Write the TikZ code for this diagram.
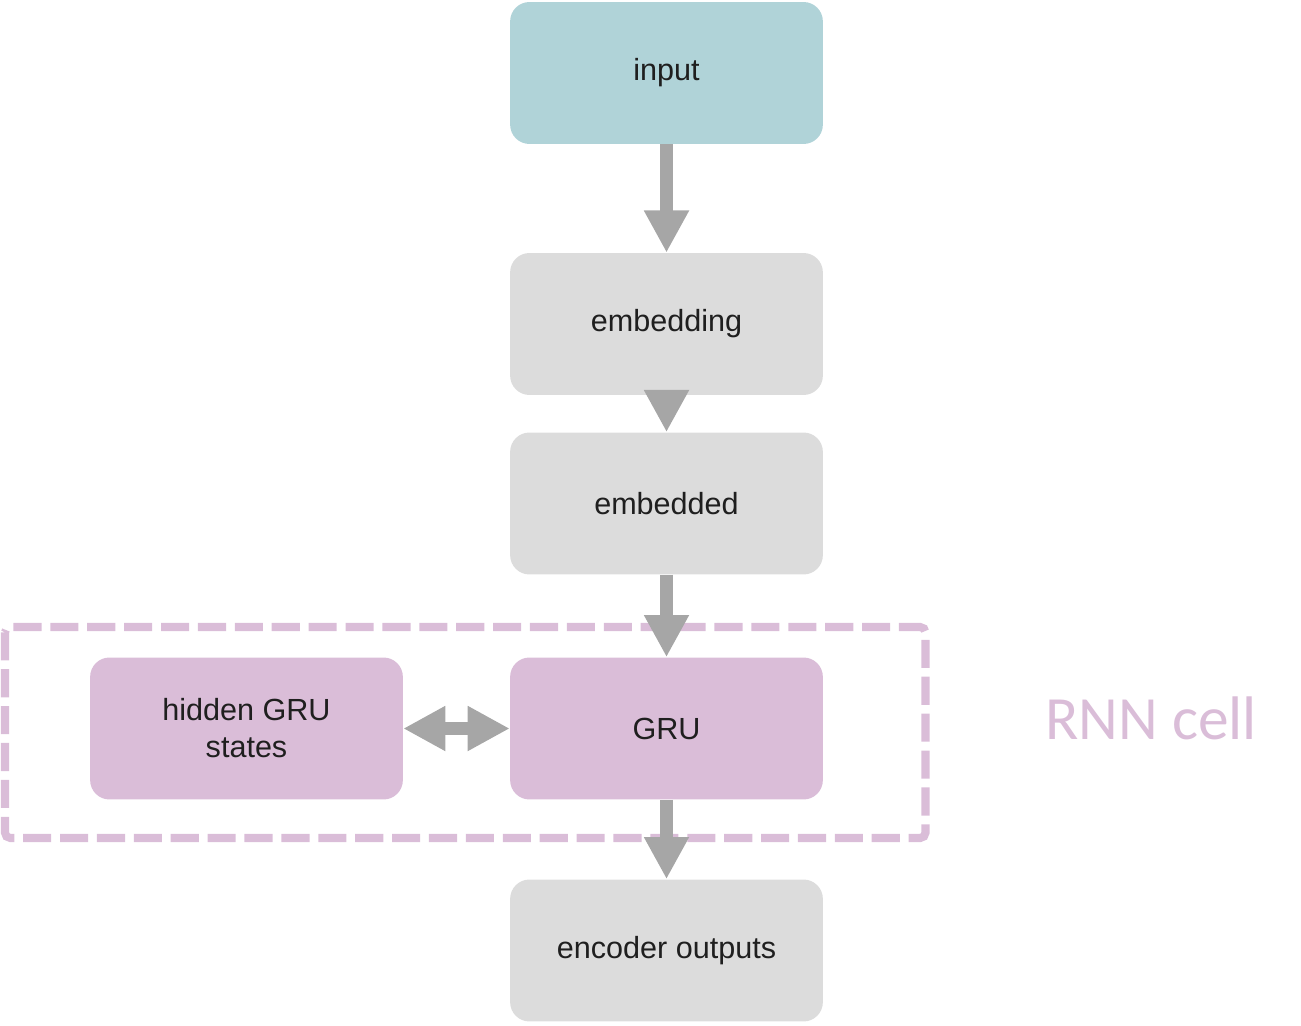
\documentclass[tikz,border=0pt]{standalone}
\usepackage{fontspec}
\setmainfont{Liberation Sans}
\newfontfamily\cellfont{Carlito}
\usetikzlibrary{arrows.meta}
\definecolor{inputblue}{HTML}{B0D3D8}
\definecolor{stepgrey}{HTML}{DCDCDC}
\definecolor{rnnpink}{HTML}{DABDD8}
\definecolor{arrowgrey}{HTML}{A6A6A6}
\definecolor{boxtext}{HTML}{1F1F1F}
\tikzset{
  box/.style={rounded corners=11pt, minimum width=178pt, minimum height=80.8pt,
    inner sep=0pt, text=boxtext, align=center, font=\fontsize{17.4}{21}\selectfont},
  fat arrow/.style={draw=arrowgrey, line width=7.8pt, -{Triangle[width=24pt,length=24pt]}},
  both arrow/.style={draw=arrowgrey, line width=7.4pt,
    {Triangle[width=24pt,length=24pt]}-{Triangle[width=24pt,length=24pt]}}
}
\begin{document}
\begin{tikzpicture}[x=0.02cm,y=-0.02cm]
            \useasboundingbox (0,0) rectangle (1301,1026);
            % dashed frame of the cell
            \draw[rnnpink, line width=4.6pt, dash pattern=on 16pt off 5pt, rounded corners=3pt] (5,627) rectangle (925.5,838);
            \node[box, fill=inputblue] (input) at (666.5,73) {input};
            \node[box, fill=stepgrey] (embedding) at (666.5,324) {embedding};
            \node[box, fill=stepgrey] (embedded) at (666.5,503.5) {embedded};
            \node[box, fill=rnnpink] (gru) at (666.5,728.5) {GRU};
            \node[box, fill=rnnpink] (hidden) at (246.5,728.5) {hidden GRU\\states};
            \node[box, fill=stepgrey] (outputs) at (666.5,950.5) {encoder outputs};
            \node[text=rnnpink, font=\cellfont\fontsize{35}{40}\selectfont] (celllabel) at (1151,718) {RNN cell};
            % arrows
            \draw[fat arrow] (input) -- (embedding);
            \draw[fat arrow] ([yshift=3pt]embedding.south) -- (embedded.north);
            \draw[fat arrow] (embedded) -- (gru);
            \draw[fat arrow] (gru) -- (outputs);
            \draw[both arrow] (hidden) -- (gru);
\end{tikzpicture}
\end{document}
